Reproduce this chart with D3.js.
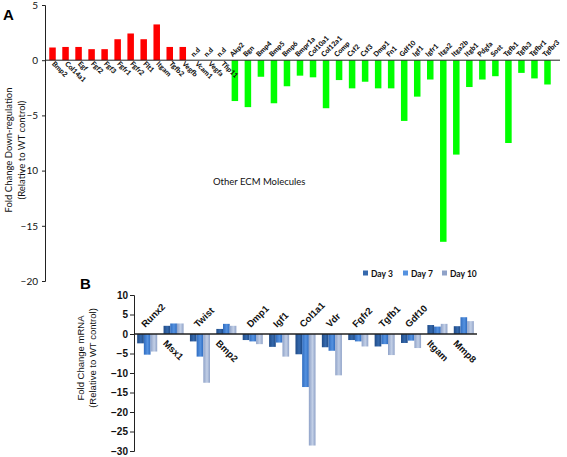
<!DOCTYPE html>
<html><head><meta charset="utf-8">
<script src="https://cdn.jsdelivr.net/npm/d3@7"></script>
<style>body{margin:0;background:#fff}svg{display:block}</style>
</head><body>
<script>
// ---------- Panel A data ----------
const catsA = ["Bmp2","Col14a1","Egf","Fgf2","Fgf3","Fgfr1","Fgfr2","Flt1","Itgam","Tgfb2","Vegfb",
  "Vcam1","Vegfa","Tfip11",
  "Akp2","Bgn","Bmp4","Bmp5","Bmp6","Bmpr1a","Col10a1","Col12a1","Comp","Csf2","Csf3","Dmp1","Fn1",
  "Gdf10","Igf1","Igfr1","Itga2","Itga2b","Itgb1","Pdgfa","Sost","Tgfb1","Tgfb3","Tgfbr1","Tgfbr3"];
const valsA = [1.15,1.2,1.2,1.0,1.0,1.9,2.42,1.9,3.24,1.2,1.2,
  null,null,null,
  -3.7,-4.25,-1.5,-3.9,-2.36,-1.4,-1.55,-4.35,-1.8,-2.55,-1.95,-2.55,-2.55,
  -5.5,-3.3,-1.75,-16.45,-8.55,-2.43,-1.75,-1.45,-7.5,-1.15,-1.65,-2.2];
const ticksA = [5,0,-5,-10,-15,-20];
const ndLabel = "n.d";
const noteA = "Other ECM Molecules";
const titleA = ["Fold Change Down-regulation","(Relative to WT control)"];

// ---------- Panel B data ----------
const catsB = ["Runx2","Msx1","Twist","Bmp2","Dmp1","Igf1","Col1a1","Vdr","Fgfr2","Tgfb1","Gdf10","Itgam","Mmp8"];
const seriesB = ["Day 3","Day 7","Day 10"];
const day3  = [-2.4, 2.1,-1.9,1.3,-1.55,-3.3,-5.2,-3.4,-1.55,-3.2,-2.3,2.3,2.0];
const day7  = [-5.3, 2.7,-5.8,2.6,-1.9,-2.2,-13.6,-4.3,-1.9,-2.6,-1.7,1.9,4.3];
const day10 = [-4.5, 2.7,-12.5,2.1,-2.6,-5.8,-28.6,-10.6,-3.2,-5.4,-3.6,2.6,3.3];
const ticksB = [10,5,0,-5,-10,-15,-20,-25,-30];
const titleB = ["Fold Change mRNA","(Relative to WT control)"];

const W = 567, H = 457;
const svg = d3.select("body").append("svg").attr("width", W).attr("height", H);
const fontA = "Lato, 'Open Sans', sans-serif";
const fontB = "'Liberation Sans', Arial, sans-serif";

// ================= Panel A =================
const xA = d3.scaleBand().domain(catsA).range([46, 554]).paddingInner(0.5).paddingOuter(0.25);
const yA = d3.scaleLinear().domain([5, -20]).range([5, 281]);

const gA = svg.append("g");
gA.append("text").attr("x", 3).attr("y", 20).text("A")
  .attr("font-family", fontB).attr("font-weight", "bold").attr("font-size", 15);

const axA = gA.append("g").attr("transform", "translate(45,0)")
  .call(d3.axisLeft(yA).tickValues(ticksA).tickSize(3).tickFormat(d3.format("d")));
axA.select(".domain").attr("stroke", "#222");
axA.selectAll(".tick line").attr("stroke", "#222");
axA.selectAll(".tick text").attr("font-family", fontA).attr("font-size", 10).attr("fill", "#111").attr("x", -7);

gA.selectAll("rect.a").data(catsA.map((c, i) => ({c, v: valsA[i]})).filter(d => d.v !== null))
  .enter().append("rect")
  .attr("x", d => xA(d.c)).attr("width", xA.bandwidth())
  .attr("y", d => yA(Math.max(0, d.v)))
  .attr("height", d => Math.abs(yA(d.v) - yA(0)))
  .attr("fill", d => d.v > 0 ? "#ff0000" : "#00ff00");

gA.append("line").attr("x1", 45).attr("x2", 560).attr("y1", yA(0)).attr("y2", yA(0))
  .attr("stroke", "#222").attr("stroke-width", 1);

// category labels
const labA = 7;
catsA.forEach((c, i) => {
  const v = valsA[i];
  const cx = xA(c) + xA.bandwidth() / 2;
  if (v === null || v > 0) {
    gA.append("text").attr("transform", `translate(${cx - 1},${yA(0) + 4}) rotate(45)`)
      .attr("font-family", fontA).attr("font-weight", "900").attr("font-size", labA).attr("fill", "#111").text(c);
  } else {
    gA.append("text").attr("transform", `translate(${cx - 2},${yA(0) - 3}) rotate(-45)`)
      .attr("font-family", fontA).attr("font-weight", "900").attr("font-size", labA).attr("fill", "#111").text(c);
  }
  if (v === null) {
    gA.append("text").attr("transform", `translate(${cx - 2},${yA(0) - 3}) rotate(-45)`)
      .attr("font-family", fontA).attr("font-weight", "900").attr("font-size", labA).attr("fill", "#111").text(ndLabel);
  }
});

gA.append("text").attr("x", 213).attr("y", 185).text(noteA)
  .attr("font-family", fontA).attr("font-size", 9.5).attr("fill", "#111");

titleA.forEach((t, i) => {
  gA.append("text").attr("transform", `translate(${12 + i * 13},150) rotate(-90)`)
    .attr("text-anchor", "middle").attr("font-family", fontA).attr("font-size", 9.5).attr("fill", "#111").text(t);
});

// ================= Panel B =================
const xB = d3.scaleBand().domain(catsB).range([134, 477]).paddingInner(0.24).paddingOuter(0.12);
const xBi = d3.scaleBand().domain(seriesB).range([0, xB.bandwidth()]);
const yB = d3.scaleLinear().domain([10, -30]).range([295, 451]);
const colsB = {"Day 3": ["#1f4a86", "#3569ad"], "Day 7": ["#2f6cc0", "#5592e0"], "Day 10": ["#8fa2c8", "#c2cfe6"]};

const defs = svg.append("defs");
seriesB.forEach((s, i) => {
  const g = defs.append("linearGradient").attr("id", "gB" + i).attr("x1", "0").attr("x2", "1").attr("y1", "0").attr("y2", "0");
  g.append("stop").attr("offset", "0").attr("stop-color", colsB[s][0]);
  g.append("stop").attr("offset", "0.55").attr("stop-color", colsB[s][1]);
  g.append("stop").attr("offset", "1").attr("stop-color", colsB[s][0]);
});

const gB = svg.append("g");
gB.append("text").attr("x", 80).attr("y", 289).text("B")
  .attr("font-family", fontB).attr("font-weight", "bold").attr("font-size", 15);

const axB = gB.append("g").attr("transform", "translate(134,0)")
  .call(d3.axisLeft(yB).tickValues(ticksB).tickSize(4).tickFormat(d3.format("d")));
axB.select(".domain").attr("stroke", "#222");
axB.selectAll(".tick line").attr("stroke", "#222");
axB.selectAll(".tick text").attr("font-family", fontB).attr("font-weight", "bold").attr("font-size", 10).attr("fill", "#111").attr("x", -6);

const dataB = [day3, day7, day10];
catsB.forEach((c, i) => {
  seriesB.forEach((s, j) => {
    const v = dataB[j][i];
    gB.append("rect").attr("x", xB(c) + xBi(s)).attr("width", xBi.bandwidth())
      .attr("y", yB(Math.max(0, v))).attr("height", Math.abs(yB(v) - yB(0)))
      .attr("fill", `url(#gB${j})`);
  });
});

gB.append("line").attr("x1", 134).attr("x2", 477).attr("y1", yB(0)).attr("y2", yB(0))
  .attr("stroke", "#222").attr("stroke-width", 1.5);

catsB.forEach((c, i) => {
  const cx = xB(c) + xB.bandwidth() / 2;
  const pos = day3[i] > 0;
  if (pos) {
    gB.append("text").attr("transform", `translate(${cx - 11},${yB(0) + 10}) rotate(45)`)
      .attr("font-family", fontB).attr("font-weight", "bold").attr("font-size", 9.5).attr("fill", "#111").text(c);
  } else {
    gB.append("text").attr("transform", `translate(${cx - 2},${yB(0) - 6}) rotate(-45)`)
      .attr("font-family", fontB).attr("font-weight", "bold").attr("font-size", 9.5).attr("fill", "#111").text(c);
  }
});

titleB.forEach((t, i) => {
  gB.append("text").attr("transform", `translate(${84 + i * 12},358) rotate(-90)`)
    .attr("text-anchor", "middle").attr("font-family", fontB).attr("font-size", 9.5).attr("fill", "#111").text(t);
});

// legend
const legX = [363, 403, 442];
seriesB.forEach((s, j) => {
  gB.append("rect").attr("x", legX[j]).attr("y", 270.5).attr("width", 5).attr("height", 5).attr("fill", colsB[s][j === 2 ? 0 : 1]);
  gB.append("text").attr("x", legX[j] + 8).attr("y", 276.5).text(s)
    .attr("font-family", fontA).attr("font-weight", "bold").attr("font-size", 8.5).attr("fill", "#111");
});
</script>
</body></html>
